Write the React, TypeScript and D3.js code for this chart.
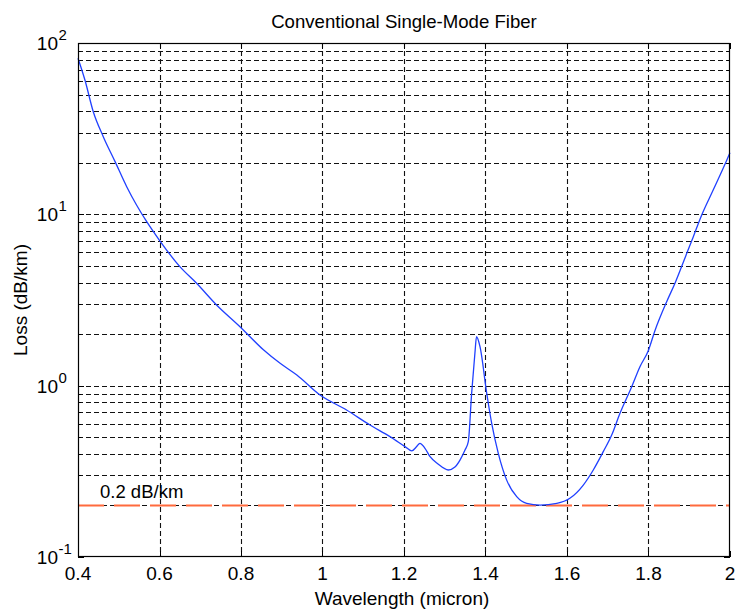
import React from "react";
import * as d3 from "d3";

const wavelength = [
  0.4, 0.417, 0.4375, 0.462, 0.491, 0.5195, 0.544, 0.5686, 0.5995, 0.65, 0.691, 0.74, 0.7975,
  0.855, 0.896, 0.937, 0.994, 1.059, 1.1166, 1.1656, 1.2025, 1.219, 1.231, 1.239, 1.2515,
  1.264, 1.2834, 1.3087, 1.325, 1.3374, 1.3497, 1.3578, 1.366, 1.374, 1.378, 1.3865, 1.403,
  1.4152, 1.4314, 1.452, 1.4766, 1.501, 1.534, 1.575, 1.607, 1.64, 1.6645, 1.689, 1.7097,
  1.73, 1.7588, 1.779, 1.7995, 1.816, 1.8446, 1.865, 1.8937, 1.91, 1.9306, 1.959, 1.992, 2.0,
];
const loss = [
  81.5, 60.8, 39.7, 28.4, 20.3, 14.5, 11.3, 9.06, 7.08, 4.95, 3.96, 2.96, 2.21,
  1.62, 1.35, 1.154, 0.882, 0.721, 0.589, 0.504, 0.441, 0.416, 0.441, 0.461, 0.431,
  0.385, 0.349, 0.322, 0.335, 0.368, 0.421, 0.471, 0.903, 1.545, 1.93, 1.69, 0.903,
  0.6025, 0.403, 0.281, 0.225, 0.2056, 0.201, 0.2056, 0.22, 0.263, 0.322, 0.412, 0.515,
  0.69, 0.986, 1.29, 1.6, 2.1, 3.09, 3.96, 5.9, 7.41, 9.91, 13.9, 20.7, 22.9,
];
const xTicks = [0.4, 0.6, 0.8, 1.0, 1.2, 1.4, 1.6, 1.8, 2.0];
const xTickLabels = ["0.4", "0.6", "0.8", "1", "1.2", "1.4", "1.6", "1.8", "2"];
const yMajor = [0.1, 1, 10, 100];
const yMajorExp = ["-1", "0", "1", "2"];
const refLevel = 0.2;
const refLabel = "0.2 dB/km";
const title = "Conventional Single-Mode Fiber";
const xLabel = "Wavelength (micron)";
const yLabel = "Loss (dB/km)";

const L = 78, R = 730, T = 43, B = 557;
const FONT = "'Liberation Sans', Arial, Helvetica, sans-serif";

export default function App() {
  const x = d3.scaleLinear().domain([0.4, 2.0]).range([L, R]);
  const y = d3.scaleLog().domain([0.1, 100]).range([B, T]);

  const yMinor: number[] = [];
  [0.1, 1, 10].forEach((d) => {
    for (let k = 2; k <= 9; k++) yMinor.push(+(k * d).toPrecision(3));
  });
  const hGrid = [...yMinor, 1, 10];
  const vGrid = xTicks.slice(1, -1);

  const line = d3
    .line<number>()
    .x((_, i) => x(wavelength[i]))
    .y((d) => y(d))
    .curve(d3.curveMonotoneX);
  const path = line(loss) || "";

  return (
    <svg
      width={736}
      height={610}
      style={{ position: "absolute", left: 0, top: 0, background: "#fff" }}
      fontFamily={FONT}
    >
      <rect x={0} y={0} width={736} height={610} fill="#fff" />
      {/* grid */}
      <g stroke="#111" strokeWidth={1.1} strokeDasharray="5,3" fill="none">
        {hGrid.map((v, i) => (
          <line key={"h" + i} x1={L} x2={R} y1={Math.round(y(v)) + 0.5} y2={Math.round(y(v)) + 0.5} />
        ))}
        {vGrid.map((v, i) => (
          <line key={"v" + i} x1={Math.round(x(v)) + 0.5} x2={Math.round(x(v)) + 0.5} y1={T} y2={B} />
        ))}
      </g>
      {/* ticks */}
      <g stroke="#000" strokeWidth={1}>
        {xTicks.map((v, i) => {
          const px = Math.round(x(v)) + 0.5;
          return (
            <g key={"xt" + i}>
              <line x1={px} x2={px} y1={B} y2={B - 6} />
              <line x1={px} x2={px} y1={T} y2={T + 6} />
            </g>
          );
        })}
        {yMajor.map((v, i) => {
          const py = Math.round(y(v)) + 0.5;
          return (
            <g key={"ym" + i}>
              <line x1={L} x2={L + 6} y1={py} y2={py} />
              <line x1={R} x2={R - 6} y1={py} y2={py} />
            </g>
          );
        })}
        {yMinor.map((v, i) => {
          const py = Math.round(y(v)) + 0.5;
          return (
            <g key={"yn" + i}>
              <line x1={L} x2={L + 3} y1={py} y2={py} />
              <line x1={R} x2={R - 3} y1={py} y2={py} />
            </g>
          );
        })}
      </g>
      {/* reference line */}
      <line
        x1={L}
        x2={R}
        y1={Math.round(y(refLevel)) + 0.5}
        y2={Math.round(y(refLevel)) + 0.5}
        stroke="#ff6a3d"
        strokeWidth={2}
        strokeDasharray="26,10"
      />
      <text x={100} y={498} fontSize={18.5} fill="#000">
        {refLabel}
      </text>
      {/* curve */}
      <path d={path} fill="none" stroke="#2040ff" strokeWidth={1.3} />
      {/* frame */}
      <rect x={L + 0.5} y={T + 0.5} width={R - L - 1} height={B - T - 1} fill="none" stroke="#000" strokeWidth={1.2} />
      {/* x tick labels */}
      {xTicks.map((v, i) => (
        <text key={"xl" + i} x={x(v)} y={580} fontSize={19} textAnchor="middle" fill="#000">
          {xTickLabels[i]}
        </text>
      ))}
      {/* y tick labels */}
      {yMajor.map((v, i) => (
        <g key={"yl" + i}>
          <text x={58} y={y(v) + 7} fontSize={19} textAnchor="end" fill="#000">
            10
          </text>
          <text x={58.5} y={y(v) - 3} fontSize={15} textAnchor="start" fill="#000">
            {yMajorExp[i]}
          </text>
        </g>
      ))}
      {/* titles */}
      <text x={(L + R) / 2} y={28} fontSize={18.6} textAnchor="middle" fill="#000">
        {title}
      </text>
      <text x={402} y={605} fontSize={19} textAnchor="middle" fill="#000">
        {xLabel}
      </text>
      <text
        transform={`translate(27, ${(T + B) / 2}) rotate(-90)`}
        fontSize={19}
        textAnchor="middle"
        fill="#000"
      >
        {yLabel}
      </text>
    </svg>
  );
}
